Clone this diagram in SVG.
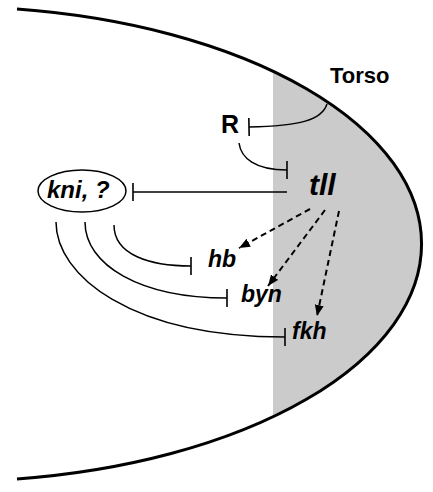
<svg xmlns="http://www.w3.org/2000/svg" width="433" height="492" viewBox="0 0 433 492">
<style>
.lbl{font-family:"Liberation Sans",Arial,Helvetica,sans-serif;font-weight:bold;fill:#000}
.it{font-style:italic}
.conn{fill:none;stroke:#000;stroke-width:1.5}
.dash{stroke-dasharray:6 4;stroke-width:2}
</style>
<defs>
<marker id="bar" markerUnits="userSpaceOnUse" viewBox="-2 -10 4 20" refX="0" refY="0" markerWidth="4" markerHeight="20" orient="auto">
<line x1="0" y1="-9" x2="0" y2="9" stroke="#000" stroke-width="1.6"/>
</marker>
<marker id="arrow" markerUnits="userSpaceOnUse" viewBox="0 0 12 10" refX="11" refY="5" markerWidth="12" markerHeight="10" orient="auto">
<path d="M0,0.5 L11,5 L0,9.5 Z" fill="#000" stroke="none"/>
</marker>
</defs>
<rect width="433" height="492" fill="#fff"/>
<g id="embryo">
<path d="M273,70.6 A473,237.5 0 0 1 273,417.4 Z" fill="#cbcbcb"/>
<path d="M17,9 A473,237.5 0 0 1 17,479" fill="none" stroke="#000" stroke-width="3"/>
</g>
<g id="connectors">
<path class="conn" d="M327,104 C322,120 300,126 249,127" marker-end="url(#bar)"/>
<path class="conn" d="M239,143 C241,158 255,170 287,170" marker-end="url(#bar)"/>
<path class="conn" d="M287,192 L133,192" marker-end="url(#bar)"/>
<path class="conn" d="M114,225 C114,255 150,266 191,266" marker-end="url(#bar)"/>
<path class="conn" d="M85,222 C85,265 140,298 227,298" marker-end="url(#bar)"/>
<path class="conn" d="M56,222 C56,275 130,337 285,337" marker-end="url(#bar)"/>
<path class="conn dash" d="M310,209 L239,248" marker-end="url(#arrow)"/>
<path class="conn dash" d="M325,210 L268,286" marker-end="url(#arrow)"/>
<path class="conn dash" d="M339,211 L317,316" marker-end="url(#arrow)"/>
</g>
<g id="torso"><text class="lbl" x="330" y="83" font-size="22">Torso</text></g>
<g id="R"><text class="lbl" x="221" y="133" font-size="25">R</text></g>
<g id="tll"><text class="lbl it" x="309" y="195" font-size="30">tll</text></g>
<g id="kni">
<ellipse cx="82" cy="191" rx="44" ry="21" fill="none" stroke="#000" stroke-width="1.5"/>
<text class="lbl it" x="47" y="198" font-size="24">kni, ?</text>
</g>
<g id="hb"><text class="lbl it" x="208" y="267" font-size="23">hb</text></g>
<g id="byn"><text class="lbl it" x="241" y="302" font-size="23">byn</text></g>
<g id="fkh"><text class="lbl it" x="292" y="339" font-size="23">fkh</text></g>
</svg>
